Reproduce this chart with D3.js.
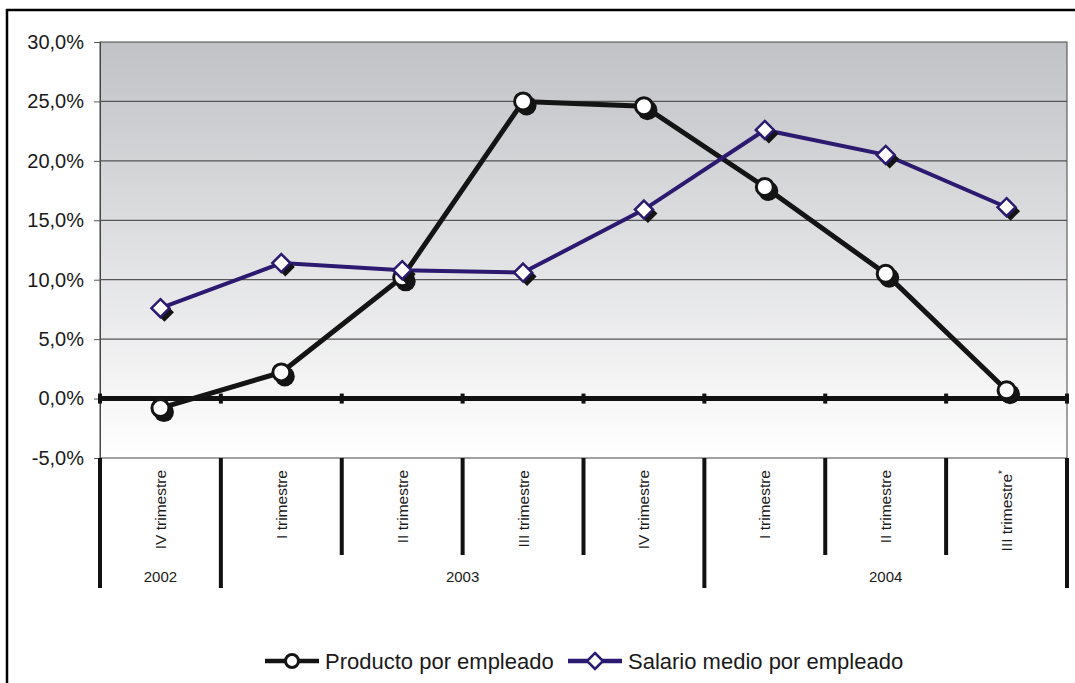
<!DOCTYPE html>
<html>
<head>
<meta charset="utf-8">
<script src="https://cdn.jsdelivr.net/npm/d3@7"></script>
<style>
  body { margin: 0; background: #fff; }
  svg { display: block; font-family: "Liberation Sans", Arial, sans-serif; }
</style>
</head>
<body>
<svg id="chart" width="1075" height="683"></svg>
<script>
const quarters = ["IV trimestre", "I trimestre", "II trimestre", "III trimestre",
  "IV trimestre", "I trimestre", "II trimestre", "III trimestre"];
const quarterNote = ["", "", "", "", "", "", "", "*"];
const yearLabels = ["2002", "2003", "2004"];
const yearSpans = [1, 4, 3];
const producto = [-0.8, 2.2, 10.2, 25.0, 24.6, 17.8, 10.5, 0.7];
const salario = [7.6, 11.4, 10.8, 10.6, 15.9, 22.6, 20.5, 16.1];
const yTicks = [-5, 0, 5, 10, 15, 20, 25, 30];

const svg = d3.select("#chart");
const plotL = 100, plotR = 1067, plotT = 42, plotB = 458;
const navy = "#2b1a6f";

const x = d3.scaleBand().domain(d3.range(quarters.length)).range([plotL, plotR]);
const y = d3.scaleLinear().domain([-5, 30]).range([plotB, plotT]);
const fmt = v => v.toFixed(1).replace(".", ",") + "%";

// outer frame
svg.append("rect")
  .attr("x", 7).attr("y", 10).attr("width", 1100).attr("height", 700)
  .attr("fill", "none").attr("stroke", "#000").attr("stroke-width", 2.5);

const defs = svg.append("defs");
const grad = defs.append("linearGradient").attr("id", "bg")
  .attr("x1", 0).attr("y1", 0).attr("x2", 0).attr("y2", 1);
grad.append("stop").attr("offset", "0%").attr("stop-color", "#c1c2c6");
grad.append("stop").attr("offset", "100%").attr("stop-color", "#ffffff");

svg.append("rect")
  .attr("x", plotL).attr("y", plotT).attr("width", plotR - plotL).attr("height", plotB - plotT)
  .attr("fill", "url(#bg)").attr("stroke", "#444").attr("stroke-width", 1);

// y axis with gridlines
const yAxis = svg.append("g")
  .attr("transform", `translate(${plotL},0)`)
  .call(d3.axisLeft(y).tickValues(yTicks).tickFormat(fmt).tickSize(6).tickPadding(10));
yAxis.select(".domain").attr("stroke", "#444");
yAxis.selectAll(".tick line").attr("stroke", "#555");
yAxis.selectAll(".tick text")
  .attr("font-size", 20).attr("fill", "#1a1a1a").attr("font-family", "Liberation Sans, Arial, sans-serif");

svg.append("g").selectAll("line")
  .data(yTicks.filter(t => t !== 0 && t !== 30 && t !== -5))
  .join("line")
  .attr("x1", plotL).attr("x2", plotR)
  .attr("y1", d => y(d)).attr("y2", d => y(d))
  .attr("stroke", "#555").attr("stroke-width", 1.2);

// category axis: zero line and boundary ticks
const bounds = d3.range(quarters.length + 1).map(i => i < quarters.length ? x(i) : plotR);
svg.append("line")
  .attr("x1", plotL).attr("x2", plotR).attr("y1", y(0)).attr("y2", y(0))
  .attr("stroke", "#111").attr("stroke-width", 5);
svg.append("g").selectAll("rect")
  .data(bounds)
  .join("rect")
  .attr("x", d => d - 2).attr("y", y(0) - 5).attr("width", 4).attr("height", 10)
  .attr("fill", "#111");

// separators below the plot
const yearBounds = [0];
yearSpans.forEach((s, i) => yearBounds.push(yearBounds[i] + s));
svg.append("g").selectAll("line")
  .data(d3.range(quarters.length + 1))
  .join("line")
  .attr("x1", i => bounds[i]).attr("x2", i => bounds[i])
  .attr("y1", plotB)
  .attr("y2", i => yearBounds.includes(i) ? 588 : 555)
  .attr("stroke", "#111").attr("stroke-width", 4);

// quarter labels
const qLabels = svg.append("g").selectAll("text")
  .data(quarters)
  .join("text")
  .attr("transform", (d, i) => `translate(${x(i) + x.bandwidth() / 2},470) rotate(-90)`)
  .attr("dy", "0.35em")
  .attr("text-anchor", "end")
  .attr("font-size", 15.5)
  .attr("fill", "#1a1a1a");
qLabels.append("tspan").text(d => d);
qLabels.append("tspan")
  .text((d, i) => quarterNote[i])
  .attr("font-size", 10).attr("dy", "-0.6em");

// year labels
svg.append("g").selectAll("text")
  .data(yearLabels)
  .join("text")
  .attr("x", (d, i) => (bounds[yearBounds[i]] + bounds[yearBounds[i + 1]]) / 2)
  .attr("y", 582)
  .attr("text-anchor", "middle")
  .attr("font-size", 15)
  .attr("fill", "#1a1a1a")
  .text(d => d);

// lines
const line = d3.line().x((d, i) => x(i) + x.bandwidth() / 2).y(d => y(d));
svg.append("path").datum(producto).attr("d", line)
  .attr("fill", "none").attr("stroke", "#141414").attr("stroke-width", 5);
svg.append("path").datum(salario).attr("d", line)
  .attr("fill", "none").attr("stroke", navy).attr("stroke-width", 4);

const diamond = r => `M0,${-r}L${r},0L0,${r}L${-r},0Z`;

function drawCircles(g, data) {
  g.selectAll(".sh").data(data).join("circle").attr("class", "sh")
    .attr("cx", (d, i) => x(i) + x.bandwidth() / 2 + 3.5).attr("cy", d => y(d) + 4)
    .attr("r", 10).attr("fill", "#141414");
  g.selectAll(".mk").data(data).join("circle").attr("class", "mk")
    .attr("cx", (d, i) => x(i) + x.bandwidth() / 2).attr("cy", d => y(d))
    .attr("r", 8.5).attr("fill", "#fff").attr("stroke", "#141414").attr("stroke-width", 3);
}
function drawDiamonds(g, data) {
  g.selectAll(".sh").data(data).join("path").attr("class", "sh")
    .attr("transform", (d, i) => `translate(${x(i) + x.bandwidth() / 2 + 4},${y(d) + 4})`)
    .attr("d", diamond(9.5)).attr("fill", "#141414");
  g.selectAll(".mk").data(data).join("path").attr("class", "mk")
    .attr("transform", (d, i) => `translate(${x(i) + x.bandwidth() / 2},${y(d)})`)
    .attr("d", diamond(9)).attr("fill", "#fff").attr("stroke", navy).attr("stroke-width", 2.5);
}
drawCircles(svg.append("g"), producto);
drawDiamonds(svg.append("g"), salario);

// legend
const legend = svg.append("g").attr("transform", "translate(0,661)");
const items = [
  { name: "Producto por empleado", color: "#141414", x: 265, shape: "circle" },
  { name: "Salario medio por empleado", color: navy, x: 568, shape: "diamond" }
];
items.forEach(it => {
  legend.append("line").attr("x1", it.x).attr("x2", it.x + 54).attr("y1", 0).attr("y2", 0)
    .attr("stroke", it.color).attr("stroke-width", 4.5);
  if (it.shape === "circle") {
    legend.append("circle").attr("cx", it.x + 27).attr("cy", 0).attr("r", 6.5)
      .attr("fill", "#fff").attr("stroke", it.color).attr("stroke-width", 3);
  } else {
    legend.append("path").attr("transform", `translate(${it.x + 27},0)`).attr("d", diamond(8))
      .attr("fill", "#fff").attr("stroke", it.color).attr("stroke-width", 2.5);
  }
  legend.append("text").attr("x", it.x + 60).attr("y", 0).attr("dy", "0.35em")
    .attr("font-size", 22).attr("fill", "#1a1a1a").text(it.name);
});
</script>
</body>
</html>
